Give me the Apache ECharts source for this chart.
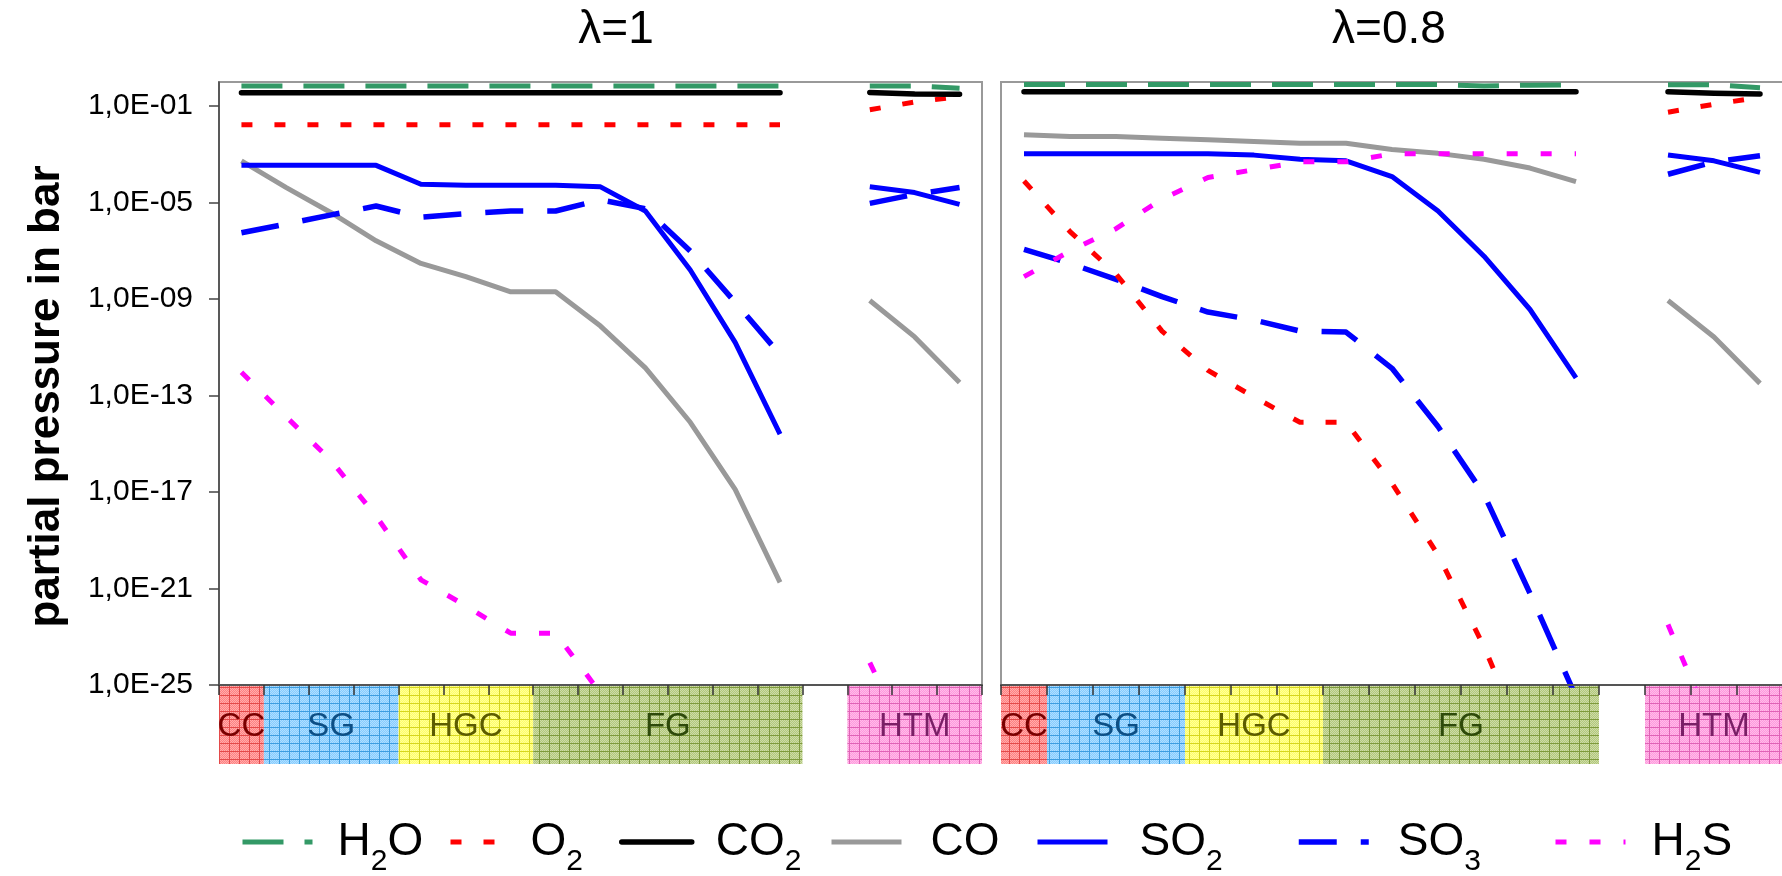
<!DOCTYPE html>
<html>
<head>
<meta charset="utf-8">
<script src="https://cdn.jsdelivr.net/npm/echarts@6/dist/echarts.min.js"></script>
<style>
html,body{margin:0;padding:0;background:#fff;}
#chart{width:1782px;height:876px;}
</style>
</head>
<body>
<div id="chart"></div>
<script>
// ---------- data ----------
const categories = ['CC','SG-1','SG-2','SG-3','HGC-1','HGC-2','HGC-3','FG-1','FG-2','FG-3','FG-4','FG-5','FG-6','gap','HTM-1','HTM-2','HTM-3'];
const panelTitles = ['λ=1', 'λ=0.8'];
const speciesNames = ['H2O','O2','CO2','CO','SO2','SO3','H2S'];

const regionNames = ['CC','SG','HGC','FG','HTM'];
const regionStart = [0, 1, 4, 7, 14];
const regionEnd   = [0, 3, 6, 12, 16];

// y axis: decades of the partial pressure (1,0E-25 ... 1,0E+00)
const yMinExp = -25, yMaxExp = 0, yTickStep = 4;

// lambda = 1 (partial pressure in bar)
const lam1_H2O = [0.69,0.69,0.69,0.69,0.69,0.69,0.69,0.69,0.69,0.69,0.69,0.69,0.69,null,0.69,0.69,0.55];
const lam1_O2  = [0.017,0.017,0.017,0.017,0.017,0.017,0.017,0.017,0.017,0.017,0.017,0.017,0.017,null,0.071,0.148,0.245];
const lam1_CO2 = [0.36,0.36,0.36,0.36,0.36,0.36,0.36,0.36,0.36,0.36,0.36,0.36,0.36,null,0.37,0.32,0.31];
const lam1_CO  = [5.4e-4,4.2e-5,3.8e-6,2.6e-7,3.0e-8,8.5e-9,2.0e-9,2.0e-9,7.6e-11,1.4e-12,7.8e-15,1.3e-17,1.8e-21,null,8.7e-10,2.7e-11,3.5e-13];
const lam1_SO2 = [3.5e-4,3.5e-4,3.5e-4,3.5e-4,5.8e-5,5.2e-5,5.2e-5,5.2e-5,4.5e-5,4.5e-6,1.6e-8,1.6e-11,2.5e-15,null,4.5e-5,2.6e-5,8.5e-6];
const lam1_SO3 = [5.6e-7,1.3e-6,3.1e-6,7.2e-6,2.5e-6,3.5e-6,4.5e-6,4.5e-6,1.3e-5,5.6e-6,9.8e-8,7.4e-10,5.0e-12,null,9.3e-6,2.2e-5,4.2e-5];
const lam1_H2S = [9.3e-13,1.3e-14,2.0e-16,1.0e-18,2.3e-21,1.9e-22,1.4e-23,1.4e-23,4.6e-26,null,null,null,null,null,8.5e-25,1e-28,null];

// lambda = 0.8
const lam08_H2O = [0.79,0.79,0.79,0.79,0.79,0.79,0.79,0.79,0.79,0.79,0.68,0.74,0.76,null,0.76,0.76,0.58];
const lam08_O2  = [7.9e-5,6.3e-7,1.1e-8,4.7e-11,1.1e-12,8.7e-14,7.8e-15,7.8e-15,2.3e-17,2.5e-20,3.9e-24,1.3e-28,null,null,0.056,0.12,0.23];
const lam08_CO2 = [0.39,0.39,0.39,0.39,0.39,0.39,0.39,0.39,0.39,0.39,0.39,0.39,0.39,null,0.39,0.34,0.32];
const lam08_CO  = [6.5e-3,5.5e-3,5.5e-3,4.7e-3,4.0e-3,3.4e-3,2.9e-3,2.9e-3,1.6e-3,1.1e-3,6.3e-4,2.7e-4,7.4e-5,null,8.7e-10,2.7e-11,3.2e-13];
const lam08_SO2 = [1.07e-3,1.07e-3,1.07e-3,1.07e-3,1.07e-3,9.3e-4,6.3e-4,5.4e-4,1.2e-4,4.5e-6,6.0e-8,3.7e-10,5.4e-13,null,9.5e-4,5.4e-4,1.8e-4];
const lam08_SO3 = [1.15e-7,3.0e-8,6.6e-9,1.26e-9,2.9e-10,1.35e-10,4.7e-11,4.3e-11,1.35e-12,5.2e-15,7.9e-18,6.3e-22,3.2e-26,null,1.5e-4,4.9e-4,8.7e-4];
const lam08_H2S = [8.5e-9,9.8e-8,8.3e-7,1.4e-5,1.1e-4,2.3e-4,4.9e-4,4.9e-4,1.05e-3,1.05e-3,1.05e-3,1.05e-3,1.05e-3,null,3.2e-23,1e-27,null];

// ---------- styles ----------
const FONT = "'Liberation Sans', Arial, sans-serif";
const speciesStyle = {
  H2O: {color:'#339966', width:5, type:[41,21]},
  O2:  {color:'#ff0000', width:5, type:[11,22]},
  CO2: {color:'#000000', width:5.5, type:'solid', cap:'round'},
  CO:  {color:'#999999', width:5, type:'solid'},
  SO2: {color:'#0000ff', width:5, type:'solid'},
  SO3: {color:'#0000ff', width:5.5, type:[38,24]},
  H2S: {color:'#ff00ff', width:5, type:[11,23]}
};
const legendRich = {
  H2O: '{p|}{n|H}{s|2}{n|O}', O2: '{p|}{n|O}{s|2}', CO2: '{p|}{n|CO}{s|2}', CO: '{p|}{n|CO}',
  SO2: '{p|}{n|SO}{s|2}', SO3: '{p|}{n|SO}{s|3}', H2S: '{p|}{n|H}{s|2}{n|S}'
};
const legendLeft  = {H2O:235, O2:443, CO2:614, CO:824, SO2:1030, SO3:1291, H2S:1548};
const legendIconW = {H2O:70, O2:60, CO2:70, CO:70, SO2:70, SO3:70, H2S:70};
const legendPad   = {H2O:20, O2:15, CO2:19, CO:24, SO2:27, SO3:24, H2S:21};

const regionBase = ['#ff8080','#85ccff','#ffff66','#b2c87a','#ff99dd'];
const regionLine = ['#e34a4a','#3d9de0','#d6d61e','#7e9a3c','#e062b6'];
const regionText = ['#7a0000','#0d4f85','#5c5c00','#2e4a0a','#7a1f66'];

function makePattern(base, line) {
  const c = document.createElement('canvas');
  c.width = 10; c.height = 8;
  const g = c.getContext('2d');
  g.fillStyle = base; g.fillRect(0,0,10,8);
  g.fillStyle = 'rgba(255,255,255,0.35)';
  for (let y = 0; y < 8; y++) for (let x = 0; x < 10; x++) if ((x + y) % 2 === 0) g.fillRect(x, y, 1, 1);
  g.fillStyle = line;
  g.fillRect(0, 7, 10, 1);
  g.fillRect(9, 0, 1, 8);
  return {image: c, repeat: 'repeat'};
}
const regionPatterns = regionBase.map((b, i) => makePattern(b, regionLine[i]));

// label for a decade exponent, e.g. -5 -> "1,0E-05"
function fmtExp(e) {
  e = Math.round(e);
  const sign = e < 0 ? '-' : '+';
  const a = Math.abs(e);
  return '1,0E' + sign + (a < 10 ? '0' + a : '' + a);
}
// the axis is logarithmic: the library's linear scale works on log10 of the pressure
const toLog = arr => arr.map(v => (v == null ? null : Math.log10(v)));

const chart = echarts.init(document.getElementById('chart'), null, {renderer:'canvas'});

const panelData = [
  {H2O:lam1_H2O, O2:lam1_O2, CO2:lam1_CO2, CO:lam1_CO, SO2:lam1_SO2, SO3:lam1_SO3, H2S:lam1_H2S},
  {H2O:lam08_H2O, O2:lam08_O2, CO2:lam08_CO2, CO:lam08_CO, SO2:lam08_SO2, SO3:lam08_SO3, H2S:lam08_H2S}
];
const drawOrder = ['CO','SO2','SO3','H2S','O2','CO2','H2O'];

const series = [];
panelData.forEach((pd, pi) => {
  drawOrder.forEach(name => {
    const st = speciesStyle[name];
    series.push({
      type:'line', name: name, xAxisIndex: pi, yAxisIndex: pi,
      data: toLog(pd[name]), symbol:'none', showSymbol:false, connectNulls:false, clip:true,
      animation:false, z: 3,
      itemStyle:{color: st.color},
      lineStyle:{color: st.color, width: st.width, type: st.type, cap: st.cap || 'butt', join:'round'}
    });
  });
});

const regionData = regionNames.map((n, i) => [regionStart[i], regionEnd[i], i]);
function renderRegion(params, api) {
  const s = api.value(0), e = api.value(1), k = api.value(2);
  const bw = api.size([1, 0])[0];
  const pTop = api.coord([s, 1]);
  const pBot = api.coord([e, 0]);
  const x0 = pTop[0] - bw / 2, x1 = pBot[0] + bw / 2;
  const y0 = pTop[1], y1 = pBot[1];
  return {
    type:'group',
    children:[
      {type:'rect', shape:{x:x0, y:y0, width:x1 - x0, height:y1 - y0}, style:{fill: regionPatterns[k]}},
      {type:'text', style:{text: regionNames[k], x:(x0 + x1) / 2, y:(y0 + y1) / 2 + 2, align:'center', verticalAlign:'middle',
        fill: regionText[k], font: '33px ' + FONT}}
    ]
  };
}
[0,1].forEach(pi => {
  series.push({
    type:'custom', name:'regions' + pi, xAxisIndex: 2 + pi, yAxisIndex: 2 + pi,
    data: regionData, renderItem: renderRegion, encode:{x:[0,1]}, z:1, silent:true, animation:false
  });
});

const mainX = (gi) => ({
  type:'category', gridIndex: gi, data: categories, boundaryGap: true, z: 6, position:'bottom',
  axisLine:{show:true, onZero:false, lineStyle:{color:'#555', width:2}},
  axisTick:{show:true, inside:false, length:10, interval:0, lineStyle:{color:'#333', width:1.5}},
  axisLabel:{show:false}, splitLine:{show:false}
});
const bandX = (gi) => ({type:'category', gridIndex: gi, data: categories, boundaryGap:true, show:false});

const gridBase = {containLabel:false, outerBoundsMode:'none'};
const option = {
  backgroundColor:'#fff',
  animation:false,
  title: [
    {text: panelTitles[0], left: 611, top: 2, textAlign:'center', textStyle:{fontFamily: FONT, fontSize: 46, fontWeight:'normal', color:'#000'}},
    {text: panelTitles[1], left: 1384, top: 2, textAlign:'center', textStyle:{fontFamily: FONT, fontSize: 46, fontWeight:'normal', color:'#000'}}
  ],
  legend: speciesNames.map(n => ({
    data:[n], left: legendLeft[n], top: 814, orient:'horizontal', selectedMode:false,
    itemWidth: legendIconW[n], itemHeight: 14,
    itemStyle:{opacity:0},
    lineStyle:{color: speciesStyle[n].color, width: speciesStyle[n].width, type: speciesStyle[n].type, cap: speciesStyle[n].cap || 'butt'},
    formatter: () => legendRich[n],
    textStyle:{
      fontFamily: FONT, color:'#000',
      rich:{
        p:{width: legendPad[n], height: 10},
        n:{fontFamily: FONT, fontSize: 46, lineHeight: 70, color:'#000'},
        s:{fontFamily: FONT, fontSize: 30, lineHeight: 70, verticalAlign:'bottom', color:'#000'}
      }
    }
  })),
  grid: [
    Object.assign({left:219, top:82, width:763, height:603, show:true, borderColor:'#999', borderWidth:2, backgroundColor:'#fff'}, gridBase),
    Object.assign({left:1001, top:82, width:782, height:603, show:true, borderColor:'#999', borderWidth:2, backgroundColor:'#fff'}, gridBase),
    Object.assign({left:219, top:686, width:763, height:78}, gridBase),
    Object.assign({left:1001, top:686, width:782, height:78}, gridBase)
  ],
  xAxis: [mainX(0), mainX(1), bandX(2), bandX(3)],
  yAxis: [
    {type:'value', gridIndex:0, min:yMinExp, max:yMaxExp, interval:yTickStep, z:6,
     name:'partial pressure in bar', nameLocation:'middle', nameRotate:90, nameGap:150,
     nameTextStyle:{fontFamily: FONT, fontSize:44, fontWeight:'bold', color:'#000', padding:[0,26,0,0]},
     axisLine:{show:true, onZero:false, lineStyle:{color:'#444', width:1.5}},
     axisTick:{show:true, inside:false, length:10, lineStyle:{color:'#444', width:1.5}},
     axisLabel:{show:true, margin:26, showMaxLabel:false, fontFamily: FONT, fontSize:30, color:'#000', formatter: fmtExp},
     splitLine:{show:false}},
    {type:'value', gridIndex:1, min:yMinExp, max:yMaxExp, interval:yTickStep,
     axisLine:{show:false, onZero:false}, axisTick:{show:false}, axisLabel:{show:false}, splitLine:{show:false}},
    {type:'value', gridIndex:2, min:0, max:1, show:false},
    {type:'value', gridIndex:3, min:0, max:1, show:false}
  ],
  series: series
};
chart.setOption(option);
</script>
</body>
</html>
